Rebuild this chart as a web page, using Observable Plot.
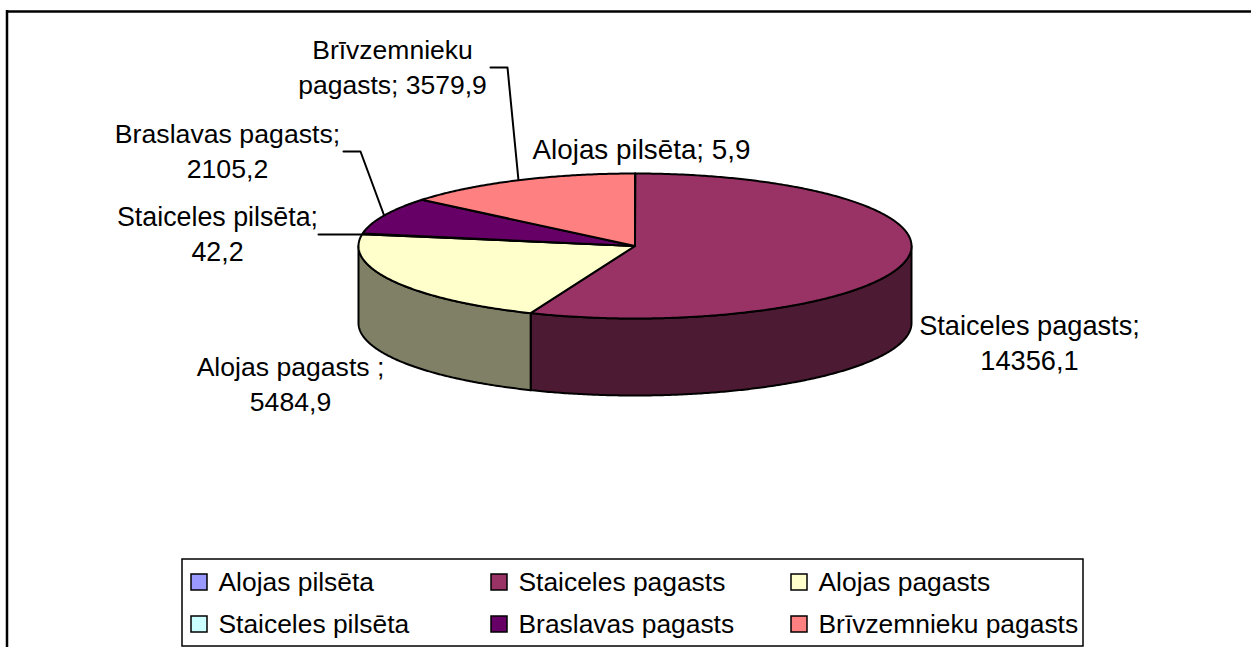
<!DOCTYPE html>
<html>
<head>
<meta charset="utf-8">
<script src="https://cdn.jsdelivr.net/npm/d3@7"></script>
<script src="https://cdn.jsdelivr.net/npm/@observablehq/plot@0.6"></script>
<style>html,body{margin:0;padding:0;background:#fff;overflow:hidden}svg{display:block}</style>
</head>
<body>
<div id="chart"></div>
<script>
const names = ["Alojas pilsēta","Staiceles pagasts","Alojas pagasts","Staiceles pilsēta","Braslavas pagasts","Brīvzemnieku pagasts"];
const values = [5.9,14356.1,5484.9,42.2,2105.2,3579.9];
const topColors = ["#9999ff","#993366","#ffffcc","#ccffff","#660066","#ff8080"];
const wallColors = ["#4d4d80","#4d1a33","#808066","#668080","#330033","#804040"];
const valueText = ["5,9","14356,1","5484,9","42,2","2105,2","3579,9"];

// Layout of the drawing (page pixels)
const W = 1251, H = 647;
const cx = 634.5, cy = 245.5, rx = 276.5, ry = 72.5, depth = 77;

const total = d3.sum(values);
const cum = d3.cumsum(values);
const startAngle = i => (i === 0 ? 0 : cum[i - 1]) / total * 360;
const endAngle = i => cum[i] / total * 360;
const px = a => cx + rx * Math.sin(a * Math.PI / 180);
const py = (a, dz = 0) => cy - ry * Math.cos(a * Math.PI / 180) + dz;

function arc(a0, a1, dz = 0) {
  const n = Math.max(2, Math.ceil(Math.abs(a1 - a0) / 0.5));
  return d3.range(n + 1).map(k => {
    const a = a0 + (a1 - a0) * k / n;
    return {x: px(a), y: py(a, dz)};
  });
}

const walls = [], tops = [];
names.forEach((name, i) => {
  const a0 = startAngle(i), a1 = endAngle(i);
  tops.push(...[{x: cx, y: cy}, ...arc(a0, a1), {x: cx, y: cy}].map(p => ({...p, id: name, color: topColors[i]})));
  const v0 = Math.max(a0, 90), v1 = Math.min(a1, 270);
  if (v1 > v0) {
    const outline = [...arc(v0, v1), ...arc(v1, v0, depth)];
    outline.push(outline[0]);
    walls.push(...outline.map(p => ({...p, id: name, color: wallColors[i]})));
  }
});

const labels = [
  {lines: ["Brīvzemnieku", "pagasts; " + valueText[5]], x: 392, y: 50, fs: 26.5},
  {lines: ["Braslavas pagasts;", valueText[4]], x: 227, y: 134, fs: 26.7},
  {lines: ["Staiceles pilsēta;", valueText[3]], x: 217, y: 217, fs: 26.8},
  {lines: ["Alojas pilsēta; " + valueText[0]], x: 641, y: 150, fs: 27.8},
  {lines: ["Alojas pagasts ;", valueText[2]], x: 290, y: 367, fs: 26.6},
  {lines: ["Staiceles pagasts;", valueText[1]], x: 1029, y: 326, fs: 27.2}
].flatMap(l => l.lines.map((t, k) => ({t, x: l.x, y: l.y + k * 35, fs: l.fs})));

const leaders = [
  [{x: 490, y: 67}, {x: 507, y: 67}, {x: 518, y: 180}],
  [{x: 343, y: 151}, {x: 360, y: 151}, {x: 384, y: 216}],
  [{x: 318, y: 234}, {x: 360, y: 234}]
].flatMap((l, id) => l.map(p => ({...p, id})));

const legendX = [191, 491, 791];
const legendY = [582, 624];
const legendOrder = [[0, 0, 0], [1, 1, 0], [2, 2, 0], [3, 0, 1], [4, 1, 1], [5, 2, 1]];
const legend = legendOrder.map(([i, c, r]) => ({name: names[i], color: topColors[i], x: legendX[c], y: legendY[r]}));

const fontFamily = '"Liberation Sans", Arial, sans-serif';
const plot = Plot.plot({
  width: W, height: H,
  margin: 0,
  x: {domain: [0, W], range: [0, W], axis: null},
  y: {domain: [0, H], range: [0, H], axis: null},
  color: {type: "identity"},
  style: {background: "#fff", fontFamily},
  marks: [
    // chart frame
    Plot.ruleY([11], {x1: 6, x2: W, stroke: "#000", strokeWidth: 2.5}),
    Plot.ruleX([6.5], {y1: 10, y2: H, stroke: "#000", strokeWidth: 2.5}),
    // leaders
    Plot.line(leaders, {x: "x", y: "y", z: "id", stroke: "#000", strokeWidth: 2, curve: "linear"}),
    // pie
    Plot.line(walls, {x: "x", y: "y", z: "id", fill: "color", stroke: "#000", strokeWidth: 2, curve: "linear"}),
    Plot.line(tops, {x: "x", y: "y", z: "id", fill: "color", stroke: "#000", strokeWidth: 2, curve: "linear", strokeLinejoin: "round"}),
    // data labels
    Plot.text(labels, {x: "x", y: "y", text: "t", fontSize: d => d.fs, fill: "#000", textAnchor: "middle", lineAnchor: "middle"}),
    // legend
    Plot.rect([{x1: 182, x2: 1083, y1: 559, y2: 646}], {x1: "x1", x2: "x2", y1: "y1", y2: "y2", fill: "#fff", stroke: "#000", strokeWidth: 1.5}),
    Plot.rect(legend, {x1: d => d.x, x2: d => d.x + 16, y1: d => d.y - 8, y2: d => d.y + 8, fill: "color", stroke: "#000", strokeWidth: 1.5}),
    Plot.text(legend, {x: d => d.x + 27, y: "y", text: "name", fontSize: 26.4, fill: "#000", textAnchor: "start", lineAnchor: "middle"})
  ]
});
document.getElementById("chart").appendChild(plot);
</script>
</body>
</html>
